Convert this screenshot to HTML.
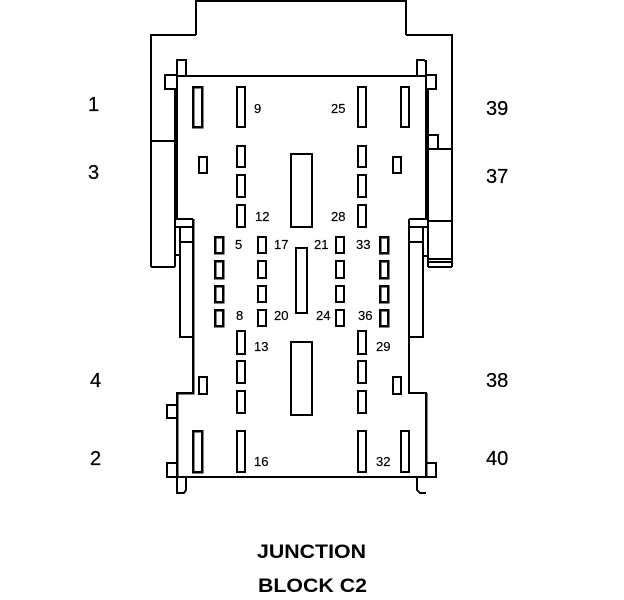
<!DOCTYPE html>
<html><head><meta charset="utf-8"><style>
html,body{margin:0;padding:0;background:#fff;width:624px;height:600px;overflow:hidden}
svg{display:block}
.s{font:13px "Liberation Sans",sans-serif;fill:#000;stroke:#000;stroke-width:.2}
.l{font:20px "Liberation Sans",sans-serif;fill:#000;stroke:#000;stroke-width:.25}
.b{font:bold 19px "Liberation Sans",sans-serif;fill:#000}
</style></head><body>
<svg width="624" height="600" viewBox="0 0 624 600" xmlns="http://www.w3.org/2000/svg">
<g fill="none" stroke="#000" stroke-width="2" shape-rendering="crispEdges">
<!-- outer housing -->
<path d="M196 35V1H406V35"/>
<path d="M151 267V35H196M406 35H452V267"/>
<path d="M151 141H175M151 267H175M175 89V267"/>
<path d="M428 149H452M428 221H452M428 259H452M428 262H452M428 267H452M428 89V267"/>
<!-- body -->
<path d="M178 76H426" />
<path d="M177 76V219H193M175 227H193" />
<path d="M193 219V393H177V477" stroke-width="2.5"/>
<path d="M166 477H426" />
<path d="M426 60V219H409M409 227H428M423 227V256H428"/>
<path d="M409 219V393H426V477"/>
<path d="M426 393V477" stroke-width="2.5"/>
<path d="M175 255H180"/>
<rect x="180" y="227" width="13" height="110"/>
<path d="M180 242H193"/>
<rect x="409" y="227" width="14" height="110"/>
<path d="M409 242H423"/>
<!-- tabs -->
<rect x="177" y="60" width="9" height="16"/>
<rect x="165" y="75" width="12" height="14"/>
<path d="M417 76V60H424L426 62"/>
<rect x="426" y="75" width="10" height="14"/>
<rect x="428" y="135" width="10" height="14"/>
<rect x="167" y="405" width="10" height="13"/>
<rect x="167" y="463" width="10" height="14"/>
<path d="M177 477V493H184L186 490V477"/>
<rect x="426" y="463" width="10" height="14"/>
<path d="M417 477V490L420 493H426"/>
<!-- large pins -->
<g stroke-width="2">
<rect x="193" y="87" width="9" height="40" stroke-width="2.5"/>
<rect x="237" y="87" width="8" height="40"/>
<rect x="358" y="87" width="8" height="40"/>
<rect x="401" y="87" width="8" height="40"/>
<rect x="193" y="431" width="9" height="41" stroke-width="2.5"/>
<rect x="237" y="431" width="8" height="41"/>
<rect x="358" y="431" width="8" height="41"/>
<rect x="401" y="431" width="8" height="41"/>
<!-- small side pins -->
<rect x="199" y="157" width="8" height="16"/>
<rect x="393" y="157" width="8" height="16"/>
<rect x="199" y="377" width="8" height="17"/>
<rect x="393" y="377" width="8" height="17"/>
<!-- upper columns -->
<rect x="237" y="146" width="8" height="21"/>
<rect x="237" y="175" width="8" height="22"/>
<rect x="237" y="205" width="8" height="22"/>
<rect x="358" y="146" width="8" height="21"/>
<rect x="358" y="175" width="8" height="22"/>
<rect x="358" y="205" width="8" height="22"/>
<!-- lower columns -->
<rect x="237" y="331" width="8" height="23"/>
<rect x="237" y="361" width="8" height="22"/>
<rect x="237" y="391" width="8" height="22"/>
<rect x="358" y="331" width="8" height="23"/>
<rect x="358" y="361" width="8" height="22"/>
<rect x="358" y="391" width="8" height="22"/>
<!-- middle rows -->
<g stroke-width="2.5">
<rect x="215" y="237" width="8" height="16"/>
<rect x="215" y="261" width="8" height="17"/>
<rect x="215" y="286" width="8" height="16"/>
<rect x="215" y="310" width="8" height="16"/>
<rect x="380" y="237" width="8" height="16"/>
<rect x="380" y="261" width="8" height="17"/>
<rect x="380" y="286" width="8" height="16"/>
<rect x="380" y="310" width="8" height="16"/>
</g>
<rect x="258" y="237" width="8" height="16"/>
<rect x="258" y="261" width="8" height="17"/>
<rect x="258" y="286" width="8" height="16"/>
<rect x="258" y="310" width="8" height="16"/>
<rect x="336" y="237" width="8" height="16"/>
<rect x="336" y="261" width="8" height="17"/>
<rect x="336" y="286" width="8" height="16"/>
<rect x="336" y="310" width="8" height="16"/>
<!-- center blocks -->
<rect x="291" y="154" width="21" height="73"/>
<rect x="296" y="248" width="11" height="65"/>
<rect x="291" y="342" width="21" height="73"/>
</g>
</g>
<!-- pin labels -->
<text class="s" x="254" y="113">9</text>
<text class="s" x="331" y="113">25</text>
<text class="s" x="255" y="221">12</text>
<text class="s" x="331" y="221">28</text>
<text class="s" x="235" y="249">5</text>
<text class="s" x="274" y="249">17</text>
<text class="s" x="314" y="249">21</text>
<text class="s" x="356" y="249">33</text>
<text class="s" x="236" y="320">8</text>
<text class="s" x="274" y="320">20</text>
<text class="s" x="316" y="320">24</text>
<text class="s" x="358" y="320">36</text>
<text class="s" x="254" y="351">13</text>
<text class="s" x="376" y="351">29</text>
<text class="s" x="254" y="466">16</text>
<text class="s" x="376" y="466">32</text>
<!-- outer labels -->
<text class="l" x="88" y="111">1</text>
<text class="l" x="88" y="179">3</text>
<text class="l" x="90" y="387">4</text>
<text class="l" x="90" y="465">2</text>
<text class="l" x="486" y="115">39</text>
<text class="l" x="486" y="183">37</text>
<text class="l" x="486" y="387">38</text>
<text class="l" x="486" y="465">40</text>
<text class="b" x="257" y="558" textLength="109" lengthAdjust="spacingAndGlyphs">JUNCTION</text>
<text class="b" x="258" y="592" textLength="109" lengthAdjust="spacingAndGlyphs">BLOCK C2</text>
</svg>
</body></html>
